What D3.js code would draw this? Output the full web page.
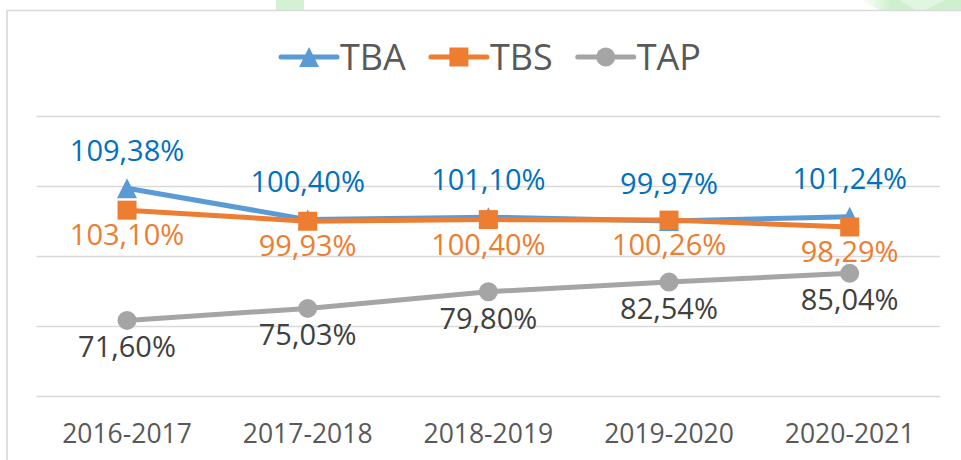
<!DOCTYPE html>
<html>
<head>
<meta charset="utf-8">
<script src="https://cdn.jsdelivr.net/npm/d3@7"></script>
<style>
  html, body { margin: 0; padding: 0; background: #ffffff; }
  svg { display: block; }
  text { font-family: "Open Sans", "DejaVu Sans", sans-serif; }
</style>
</head>
<body>
<svg id="chart" width="961" height="460"></svg>
<script>
// ---- data ----
const categories = ["2016-2017", "2017-2018", "2018-2019", "2019-2020", "2020-2021"];
const seriesNames = ["TBA", "TBS", "TAP"];
const tbaValues = [109.38, 100.40, 101.10, 99.97, 101.24];
const tbsValues = [103.10, 99.93, 100.40, 100.26, 98.29];
const tapValues = [71.60, 75.03, 79.80, 82.54, 85.04];
const yTicks = [50, 70, 90, 110, 130];

// ---- styles ----
const seriesStyle = {
  TBA: { line: "#5B9BD5", label: "#0070C0", marker: "triangle" },
  TBS: { line: "#ED7D31", label: "#ED7D31", marker: "square" },
  TAP: { line: "#A5A5A5", label: "#404040", marker: "circle" }
};
const seriesValues = { TBA: tbaValues, TBS: tbsValues, TAP: tapValues };

const W = 961, H = 460;
const plot = { left: 36.7, right: 940, top: 116, bottom: 396 };

const svg = d3.select("#chart");

// background / watermark
const defs = svg.append("defs");
const g1 = defs.append("linearGradient").attr("id", "gw1").attr("x1", "0").attr("x2", "1").attr("y1", "0").attr("y2", "0");
g1.append("stop").attr("offset", "0").attr("stop-color", "#d4f2d4").attr("stop-opacity", 0);
g1.append("stop").attr("offset", "0.3").attr("stop-color", "#c8eec8").attr("stop-opacity", 0.9);
g1.append("stop").attr("offset", "1").attr("stop-color", "#c8eec8").attr("stop-opacity", 0.9);
svg.append("rect").attr("width", W).attr("height", H).attr("fill", "#ffffff");
svg.append("path").attr("d", "M860,0 L961,0 L961,10 L880,10 Z").attr("fill", "url(#gw1)");
svg.append("path").attr("d", "M900,0 L915,10 L925,10 L945,0 Z").attr("fill", "#e6f8e6").attr("opacity", 0.8);
svg.append("rect").attr("x", 276).attr("y", 0).attr("width", 28).attr("height", 10).attr("fill", "#c8eec8").attr("opacity", 0.8);

// chart frame
svg.append("path")
  .attr("d", `M7,${H + 2} L7,10.5 L${W + 2},10.5`)
  .attr("fill", "none").attr("stroke", "#D9D9D9").attr("stroke-width", 1.6);

// scales
const x = d3.scaleBand().domain(categories).range([plot.left, plot.right]).padding(0);
const cx = d => x(d) + x.bandwidth() / 2;
const y = d3.scaleLinear().domain([50, 130]).range([plot.bottom, plot.top]);

// gridlines via axis
const yAxis = d3.axisLeft(y).tickValues(yTicks).tickSize(-(plot.right - plot.left)).tickFormat("");
const yg = svg.append("g").attr("transform", `translate(${plot.left},0)`).call(yAxis);
yg.select(".domain").remove();
yg.selectAll(".tick line").attr("stroke", "#D9D9D9").attr("stroke-width", 1.6);

// x axis labels
const xAxis = d3.axisBottom(x).tickSize(0).tickPadding(0);
const xg = svg.append("g").attr("transform", `translate(0,${plot.bottom})`).call(xAxis);
xg.select(".domain").remove();
xg.selectAll(".tick text")
  .attr("y", 46.5).attr("dy", null)
  .attr("font-size", "26.5px").attr("fill", "#595959")
  .style("font-family", "'Open Sans', sans-serif");

// marker drawer
function drawMarker(sel, type, color, size) {
  const s = size;
  if (type === "triangle") {
    sel.append("path").attr("d", `M0,${-s / 2} L${s / 2},${s / 2} L${-s / 2},${s / 2} Z`).attr("fill", color);
  } else if (type === "square") {
    sel.append("rect").attr("x", -s / 2).attr("y", -s / 2).attr("width", s).attr("height", s).attr("fill", color);
  } else {
    sel.append("circle").attr("r", s / 2).attr("fill", color);
  }
}

const fmt = v => d3.format(".2f")(v).replace(".", ",") + "%";
const line = d3.line().x(d => cx(d.cat)).y(d => y(d.v));

// draw series: TBA, TBS, TAP (later on top)
seriesNames.forEach(name => {
  const st = seriesStyle[name];
  const pts = categories.map((c, i) => ({ cat: c, v: seriesValues[name][i] }));
  const g = svg.append("g");
  g.append("path").datum(pts).attr("d", line)
    .attr("fill", "none").attr("stroke", st.line).attr("stroke-width", 5)
    .attr("stroke-linejoin", "round").attr("stroke-linecap", "round");
  pts.forEach(p => {
    const m = g.append("g").attr("transform", `translate(${cx(p.cat)},${y(p.v)})`);
    drawMarker(m, st.marker, st.line, st.marker === "triangle" ? 20 : 19);
  });
});

// labels on top
seriesNames.forEach(name => {
  const st = seriesStyle[name];
  const off = name === "TBA" ? -27.5 : (name === "TBS" ? 35 : 37);
  svg.append("g").selectAll("text")
    .data(categories.map((c, i) => ({ cat: c, v: seriesValues[name][i] })))
    .join("text")
    .attr("x", d => cx(d.cat))
    .attr("y", d => y(d.v) + off)
    .attr("text-anchor", "middle")
    .attr("font-size", "29px")
    .attr("fill", st.label)
    .text(d => fmt(d.v));
});

// legend
const legend = svg.append("g");
const lineLen = 56, textGap = 3, itemGap = 25, legendY = 57, legendCenter = 491;
let cursor = 0;
const items = seriesNames.map(name => {
  const st = seriesStyle[name];
  const g = legend.append("g");
  g.append("line").attr("x1", 0).attr("x2", lineLen).attr("y1", legendY).attr("y2", legendY)
    .attr("stroke", st.line).attr("stroke-width", 5).attr("stroke-linecap", "round");
  const m = g.append("g").attr("transform", `translate(${lineLen / 2},${legendY})`);
  drawMarker(m, st.marker, st.line, st.marker === "triangle" ? 20 : 19);
  const t = g.append("text").attr("x", lineLen + textGap).attr("y", 70)
    .attr("font-size", "36px").attr("fill", "#595959").text(name);
  const w = lineLen + textGap + t.node().getComputedTextLength();
  return { g, w };
});
const total = d3.sum(items, d => d.w) + itemGap * (items.length - 1);
cursor = legendCenter - total / 2;
items.forEach(it => {
  it.g.attr("transform", `translate(${cursor},0)`);
  cursor += it.w + itemGap;
});
</script>
</body>
</html>
